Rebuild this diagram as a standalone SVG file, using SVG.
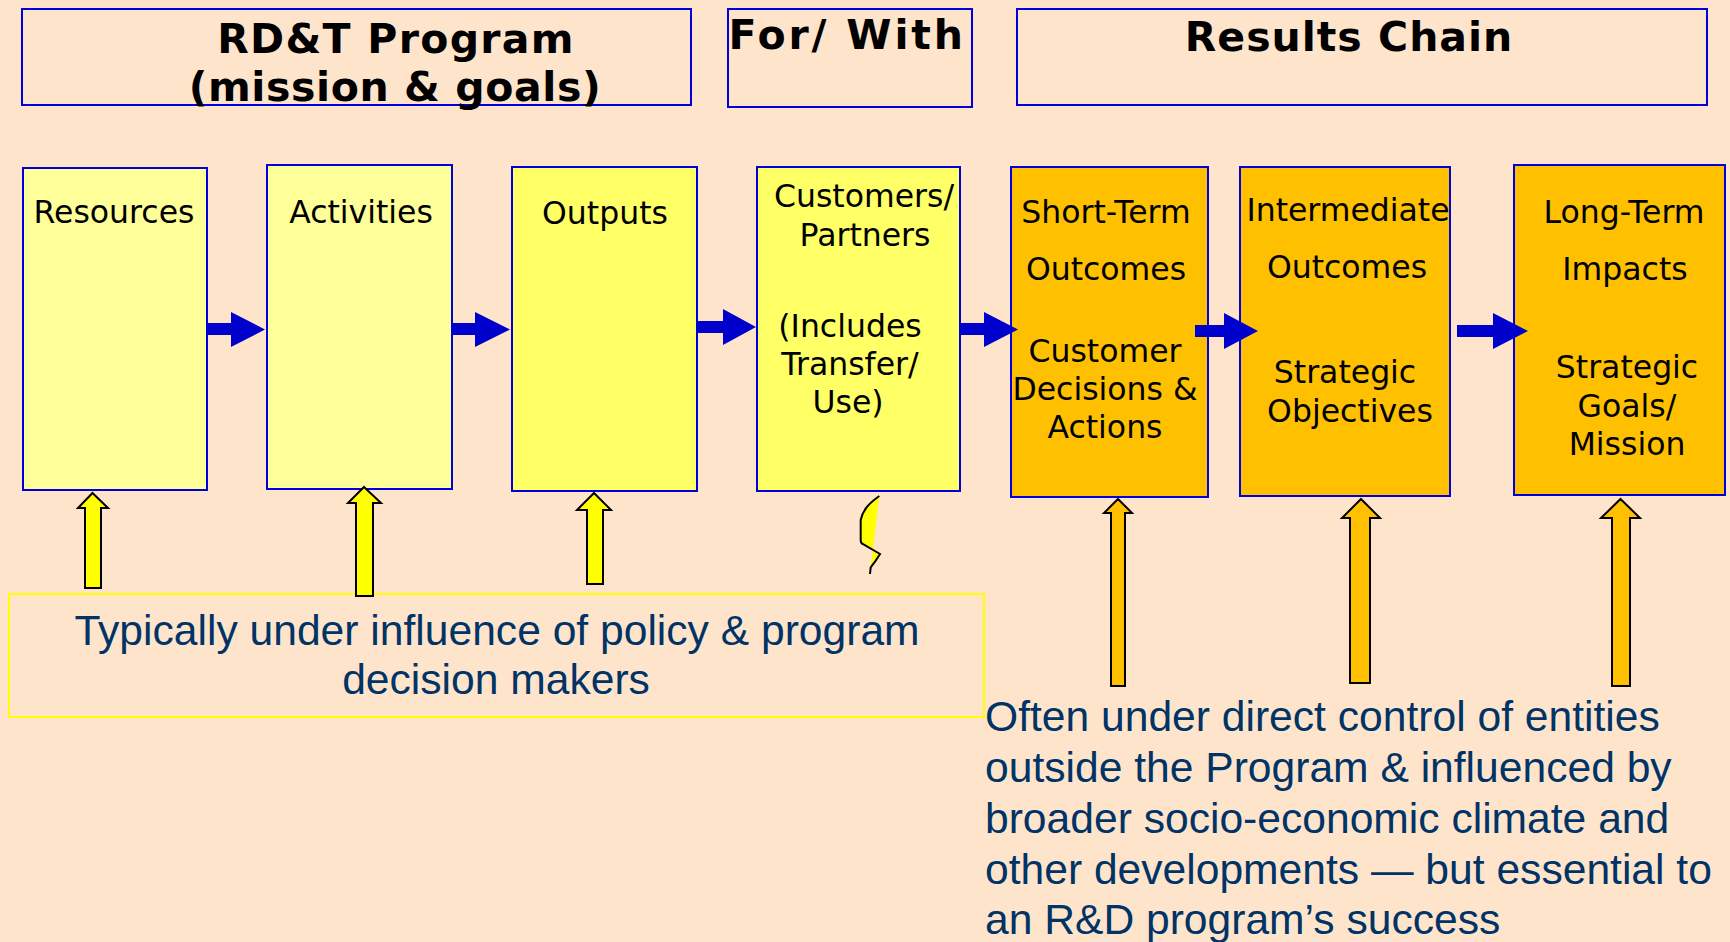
<svg xmlns="http://www.w3.org/2000/svg" width="1730" height="942" viewBox="0 0 1730 942">
  <style>
    .hdr { fill: none; stroke: #0000DD; stroke-width: 2; }
    .box { stroke: #0000DD; stroke-width: 2; }
    .pale { fill: #FFFF99; }
    .bright { fill: #FFFF66; }
    .amber { fill: #FFC000; }
    .htxt { font-family: "DejaVu Sans", Verdana, sans-serif; font-weight: bold; font-size: 41px; fill: #000; text-anchor: middle; }
    .btxt { font-family: "DejaVu Sans", Verdana, sans-serif; font-size: 31.5px; fill: #000; text-anchor: middle; }
    .note { font-family: "Liberation Sans", Arial, sans-serif; font-size: 42.6px; fill: #003366; }
    .flow { fill: #0000CC; }
    .up-y { fill: #FFFF00; stroke: #000; stroke-width: 2; stroke-linejoin: miter; }
    .up-o { fill: #FFC000; stroke: #000; stroke-width: 2; stroke-linejoin: miter; }
  </style>

  <!-- page background -->
  <rect x="0" y="0" width="1730" height="942" fill="#FFE4CC"/>

  <!-- header bands -->
  <g id="hdr-program">
    <rect class="hdr" x="22" y="9" width="669" height="96"/>
    <text class="htxt" x="396" y="53" letter-spacing="1.3">RD&amp;T Program</text>
    <text class="htxt" x="395" y="101" letter-spacing="0.6">(mission &amp; goals)</text>
  </g>
  <g id="hdr-forwith">
    <rect class="hdr" x="728" y="9" width="244" height="98"/>
    <text class="htxt" x="847" y="49" font-size="43" letter-spacing="2.8">For/ With</text>
  </g>
  <g id="hdr-results">
    <rect class="hdr" x="1017" y="9" width="690" height="96"/>
    <text class="htxt" x="1349" y="51" font-size="42" letter-spacing="1">Results Chain</text>
  </g>

  <!-- chain stages -->
  <g id="node-resources">
    <rect class="box pale" x="23" y="168" width="184" height="322"/>
    <text class="btxt" x="114" y="223">Resources</text>
  </g>
  <g id="node-activities">
    <rect class="box pale" x="267" y="165" width="185" height="324"/>
    <text class="btxt" x="361" y="223">Activities</text>
  </g>
  <g id="node-outputs">
    <rect class="box bright" x="512" y="167" width="185" height="324"/>
    <text class="btxt" x="605" y="224">Outputs</text>
  </g>
  <g id="node-customers">
    <rect class="box bright" x="757" y="167" width="203" height="324"/>
    <text class="btxt" x="864" y="207">Customers/</text>
    <text class="btxt" x="865" y="246">Partners</text>
    <text class="btxt" x="850" y="337">(Includes</text>
    <text class="btxt" x="850" y="375">Transfer/</text>
    <text class="btxt" x="848" y="413">Use)</text>
  </g>
  <g id="node-short-term">
    <rect class="box amber" x="1011" y="167" width="197" height="330"/>
    <text class="btxt" x="1106" y="223">Short-Term</text>
    <text class="btxt" x="1106" y="280">Outcomes</text>
    <text class="btxt" x="1105" y="362">Customer</text>
    <text class="btxt" x="1105" y="400">Decisions &amp;</text>
    <text class="btxt" x="1105" y="438">Actions</text>
  </g>
  <g id="node-intermediate">
    <rect class="box amber" x="1240" y="167" width="210" height="329"/>
    <text class="btxt" x="1348" y="221">Intermediate</text>
    <text class="btxt" x="1347" y="278">Outcomes</text>
    <text class="btxt" x="1345" y="383">Strategic</text>
    <text class="btxt" x="1350" y="422">Objectives</text>
  </g>
  <g id="node-long-term">
    <rect class="box amber" x="1514" y="165" width="211" height="330"/>
    <text class="btxt" x="1624" y="223">Long-Term</text>
    <text class="btxt" x="1625" y="280">Impacts</text>
    <text class="btxt" x="1627" y="378">Strategic</text>
    <text class="btxt" x="1627" y="417">Goals/</text>
    <text class="btxt" x="1627" y="455">Mission</text>
  </g>

  <!-- influence captions -->
  <g id="note-policy">
    <rect x="9" y="594" width="975" height="123" fill="none" stroke="#FFFF00" stroke-width="2"/>
    <text class="note" x="497" y="645" text-anchor="middle">Typically under influence of policy &amp; program</text>
    <text class="note" x="496" y="694" text-anchor="middle">decision makers</text>
  </g>
  <g id="note-external">
    <text class="note" x="985" y="731">Often under direct control of entities</text>
    <text class="note" x="985" y="782">outside the Program &amp; influenced by</text>
    <text class="note" x="985" y="833">broader socio-economic climate and</text>
    <text class="note" x="985" y="884">other developments — but essential to</text>
    <text class="note" x="985" y="934">an R&amp;D program’s success</text>
  </g>

  <!-- connectors -->
  <g id="connectors">
    <!-- block arrows along the chain -->
    <polygon class="flow" points="208,323 231,323 231,312 265,329.5 231,347 231,335 208,335"/>
    <polygon class="flow" points="452,323 475,323 475,312 510,329.5 475,347 475,335 452,335"/>
    <polygon class="flow" points="697,321 723,321 723,309 756,327 723,345 723,333 697,333"/>
    <polygon class="flow" points="960,323 984,323 984,312 1018,329.5 984,347 984,335 960,335"/>
    <polygon class="flow" points="1195,325 1224,325 1224,313 1258,331 1224,349 1224,337 1195,337"/>
    <polygon class="flow" points="1457,325 1493,325 1493,313 1528,331 1493,349 1493,337 1457,337"/>

    <!-- upward influence arrows, program side -->
    <polygon class="up-y" points="92.5,493 108,508 101,508 101,588 85,588 85,508 78,508"/>
    <polygon class="up-y" points="364,487 381,503 373,503 373,596 356,596 356,503 348,503"/>
    <polygon class="up-y" points="594,493 611,510 603,510 603,584 587,584 587,510 577,510"/>

    <!-- broken arrow under customers -->
    <path d="M879.3,496 C870,502.7 863,509 860.7,520 L860.7,540 C860.7,542 861.5,543.5 862.7,544 L880,554 L875,561.7 L870.7,567.3 Z" fill="#FFFF00" stroke="none"/>
    <path d="M879.3,496 C870,502.7 863,509 860.7,520 L860.7,540 C860.7,542 861.5,543.5 862.7,544 L880,554 L875,561.7 L870.7,567.3 L870,574" fill="none" stroke="#000" stroke-width="2"/>

    <!-- upward influence arrows, results side -->
    <polygon class="up-o" points="1118,499 1132,513 1125,513 1125,686 1111,686 1111,513 1104,513"/>
    <polygon class="up-o" points="1361,499 1380,518 1370,518 1370,683 1350,683 1350,518 1342,518"/>
    <polygon class="up-o" points="1620.5,499 1640,518 1630,518 1630,686 1612,686 1612,518 1601,518"/>
  </g>
</svg>
